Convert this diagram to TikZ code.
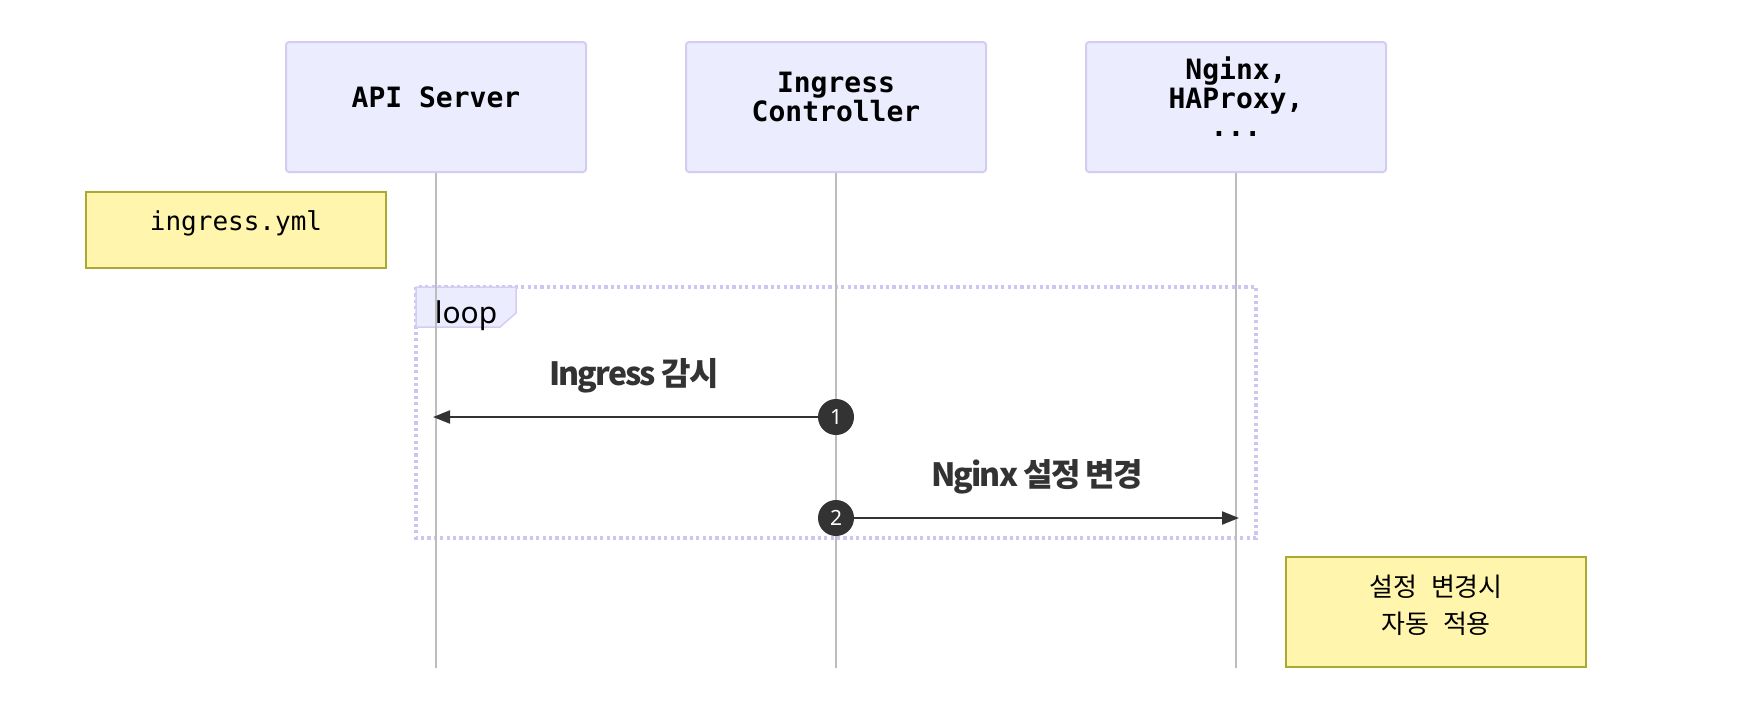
\documentclass[tikz,border=0pt]{standalone}
\usepackage{fontspec}
\usetikzlibrary{arrows.meta}
\newfontfamily\monofont{DejaVu Sans Mono}
\newfontfamily\krfont{Noto Sans CJK KR}
\newfontfamily\krtight[LetterSpace=-6]{Noto Sans CJK KR}
\newfontfamily\sansfont{Noto Sans}
\definecolor{actfill}{HTML}{ECECFF}
\definecolor{actline}{HTML}{D6CCF2}
\definecolor{loopcol}{HTML}{D0C5F0}
\definecolor{notefill}{HTML}{FFF5AD}
\definecolor{noteline}{HTML}{AAAA33}
\definecolor{lifecol}{HTML}{BDBDBD}
\definecolor{msgcol}{HTML}{333333}
\tikzset{
  actorbox/.style={draw=actline, fill=actfill, line width=1pt, rounded corners=1.5pt,
    minimum width=150pt, minimum height=65pt, inner sep=0pt},
  actortext/.style={font=\monofont\bfseries\fontsize{14}{14.3}\selectfont, align=center, inner sep=0pt, text=black},
  notebox/.style={draw=noteline, fill=notefill, line width=1pt, inner sep=0pt},
  notetext/.style={inner sep=0pt, align=center, text=black},
  lifeline/.style={draw=lifecol, line width=0.75pt},
  loopline/.style={draw=loopcol, line width=1.6pt, dash pattern=on 1.6pt off 1.6pt},
  msgline/.style={draw=msgcol, line width=1pt, -{Triangle[length=8.5pt, width=6.5pt]}},
  seqnum/.style={circle, fill=msgcol, minimum size=18pt, inner sep=0pt, text=white,
    font=\sansfont\fontsize{10.5}{11}\selectfont},
  msglabel/.style={font=\krtight\bfseries\fontsize{16}{18}\selectfont, text=msgcol, inner sep=0pt}
}
\begin{document}
\begin{tikzpicture}[x=0.5pt, y=-0.5pt]
\useasboundingbox[fill=white] (0,0) rectangle (1760,714);

% loop frame
\draw[loopline] (416,287) rectangle (1256,538);
\draw[draw=actline, fill=actfill, line width=0.75pt] (416,287) -- (516,287) -- (516,313) -- (500,327) -- (416,327) -- cycle;
\node[anchor=base, inner sep=0pt, font=\sansfont\fontsize{15}{16}\selectfont] (looplbl) at (466,323) {loop};

% actors
\node[actorbox] (api) at (436,107) {};
\node[actortext] (apit) at (436,97) {API Server};
\node[actorbox] (ic) at (836,107) {};
\node[actortext] (ict) at (836,97) {Ingress\\Controller};
\node[actorbox] (ngx) at (1236,107) {};
\node[actortext] (ngxt) at (1236,97) {Nginx,\\HAProxy,\\...};

% lifelines
\coordinate (apiend) at (436,668);
\coordinate (icend) at (836,668);
\coordinate (ngxend) at (1236,668);
\draw[lifeline] (api.south) -- (apiend);
\draw[lifeline] (ic.south) -- (icend);
\draw[lifeline] (ngx.south) -- (ngxend);

% notes
\node[notebox, minimum width=150pt, minimum height=38pt] (note1) at (236,230) {};
\node[notetext, font=\monofont\fontsize{13}{15}\selectfont] (note1t) at (236,223) {ingress.yml};
\node[notebox, minimum width=150pt, minimum height=55pt] (note2) at (1436,612) {};
\node[notetext, font=\krfont\fontsize{13}{18.5}\selectfont] (note2t) at (1436,605) {설정\hspace{7pt}변경시\\자동\hspace{7pt}적용};

% message 1
\node[seqnum] (c1) at (836,417) {1};
\coordinate (t1) at (433,417);
\draw[msgline] (c1) -- (t1);
\node[msglabel] (m1) at (634,376) {Ingress 감시};

% message 2
\node[seqnum] (c2) at (836,518) {2};
\coordinate (t2) at (1239,518);
\draw[msgline] (c2) -- (t2);
\node[msglabel] (m2) at (1037,477) {Nginx 설정 변경};
\end{tikzpicture}
\end{document}
